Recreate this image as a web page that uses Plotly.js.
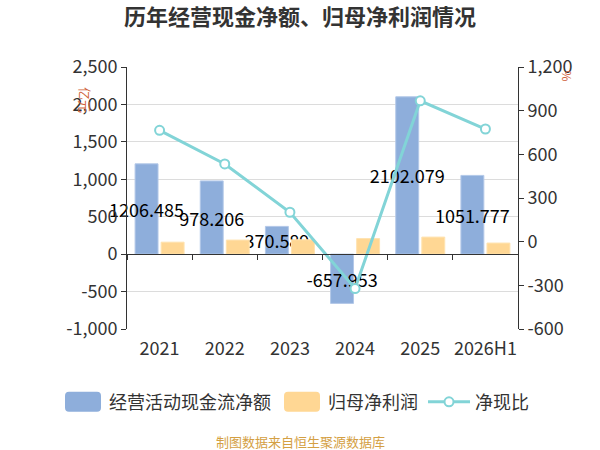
<!DOCTYPE html>
<html>
<head>
    <meta charset="UTF-8">
    <script src="https://cdn.plot.ly/plotly-3.0.1.min.js"></script>
    <style>
        body { margin: 0; background: #fff; }
        #chart { width: 600px; height: 450px; }
    </style>
</head>
<body>
    <div id="chart"></div>
    <script>
        // data
        const years = ['2021', '2022', '2023', '2024', '2025', '2026H1'];
        const cashFlow = [1206.485, 978.206, 370.589, -657.953, 2102.079, 1051.777];
        const netProfit = [160, 188, 192, 208, 228, 148];
        const cashRatio = [765, 534, 202, -322, 968, 774];

        const leftTicks = [-1000, -500, 0, 500, 1000, 1500, 2000, 2500];
        const leftTickText = ['-1,000', '-500', '0', '500', '1,000', '1,500', '2,000', '2,500'];
        const rightTicks = [-600, -300, 0, 300, 600, 900, 1200];
        const rightTickText = ['-600', '-300', '0', '300', '600', '900', '1,200'];

        const font = '"Noto Sans CJK SC", "Noto Sans", sans-serif';
        const leftRange = [-1000, 2500];

        const traces = [
            {
                type: 'bar',
                name: '经营活动现金流净额',
                x: years,
                y: cashFlow,
                text: cashFlow.map(v => String(v)),
                textposition: 'inside',
                insidetextanchor: 'middle',
                textangle: 0,
                constraintext: 'none',
                cliponaxis: false,
                textfont: { size: 18, color: '#000', family: font },
                marker: { color: '#8eaedb', line: { color: '#b3c8e8', width: 1 } },
                hoverinfo: 'none'
            },
            {
                type: 'bar',
                name: '归母净利润',
                x: years,
                y: netProfit,
                marker: { color: '#ffd794', line: { color: '#ffe3b0', width: 1 } },
                hoverinfo: 'none'
            },
            {
                type: 'scatter',
                mode: 'lines+markers',
                name: '净现比',
                x: years,
                y: cashRatio,
                yaxis: 'y2',
                line: { color: '#82d4d7', width: 3 },
                marker: { symbol: 'circle', size: 9, color: '#fff', line: { color: '#82d4d7', width: 2 } },
                hoverinfo: 'none'
            }
        ];

        const layout = {
            width: 600,
            height: 450,
            margin: { l: 127, r: 82, t: 67, b: 121 },
            paper_bgcolor: '#fff',
            plot_bgcolor: '#fff',
            font: { family: font, color: '#333', size: 16 },
            title: {
                text: '<b>历年经营现金净额、归母净利润情况</b>',
                x: 0.5, xref: 'container',
                y: 0.962, yref: 'container', yanchor: 'middle',
                font: { size: 22, color: '#333', family: font }
            },
            barmode: 'group',
            bargap: 0.2,
            bargroupgap: 0.12,
            showlegend: true,
            legend: {
                orientation: 'h',
                xref: 'paper', x: -0.179, xanchor: 'left',
                yref: 'paper', y: -0.279, yanchor: 'middle',
                font: { size: 18, color: '#333', family: font },
                itemwidth: 42
            },
            xaxis: {
                type: 'category',
                anchor: 'free',
                position: (0 - leftRange[0]) / (leftRange[1] - leftRange[0]),
                showline: true,
                linecolor: '#333',
                linewidth: 1,
                ticks: 'outside',
                tickson: 'boundaries',
                ticklen: 5,
                tickcolor: '#333',
                tickangle: 0,
                ticklabelstandoff: 78,
                showgrid: false,
                tickfont: { size: 18, color: '#333' }
            },
            yaxis: {
                range: leftRange,
                tickvals: leftTicks,
                ticktext: leftTickText,
                showline: true,
                linecolor: '#333',
                ticks: 'outside',
                ticklen: 5,
                tickcolor: '#333',
                gridcolor: '#dcdcdc',
                zeroline: false,
                tickfont: { size: 18, color: '#333' }
            },
            yaxis2: {
                overlaying: 'y',
                side: 'right',
                range: [-600, 1200],
                tickvals: rightTicks,
                ticktext: rightTickText,
                showline: true,
                linecolor: '#333',
                ticks: 'outside',
                ticklen: 5,
                tickcolor: '#333',
                showgrid: false,
                zeroline: false,
                tickfont: { size: 18, color: '#333' }
            },
            annotations: [
                {
                    text: '亿元', textangle: 90,
                    xref: 'paper', yref: 'paper', x: -0.136, y: 0.93,
                    showarrow: false, font: { size: 13, color: '#d0653e', family: font }
                },
                {
                    text: '%', textangle: 90,
                    xref: 'paper', yref: 'paper', x: 1.153, y: 0.995,
                    showarrow: false, font: { size: 12, color: '#d0653e', family: font }
                },
                {
                    text: '制图数据来自恒生聚源数据库',
                    xref: 'paper', yref: 'paper', x: 0.4425, y: -0.4275, yanchor: 'middle',
                    showarrow: false, font: { size: 13, color: '#d4a043', family: font }
                }
            ]
        };

        // wider rounded swatches for the bar entries in the legend
        function fixSwatches() {
            const gd = document.getElementById('chart');
            gd.querySelectorAll('.legend .traces').forEach(function (t) {
                const p = t.querySelector('.legendpoints path');
                if (!p || t.querySelector('.legendlines path')) return;
                p.setAttribute('d', 'M-14,-10H14A4,4 0 0 1 18,-6V6A4,4 0 0 1 14,10H-14A4,4 0 0 1 -18,6V-6A4,4 0 0 1 -14,-10Z');
                p.style.strokeWidth = '0';
            });
        }

        Plotly.newPlot('chart', traces, layout, { staticPlot: true, displayModeBar: false }).then(function (gd) {
            fixSwatches();
            gd.on('plotly_afterplot', fixSwatches);
            setTimeout(fixSwatches, 50);
            setTimeout(fixSwatches, 300);
        });
    </script>
</body>
</html>
